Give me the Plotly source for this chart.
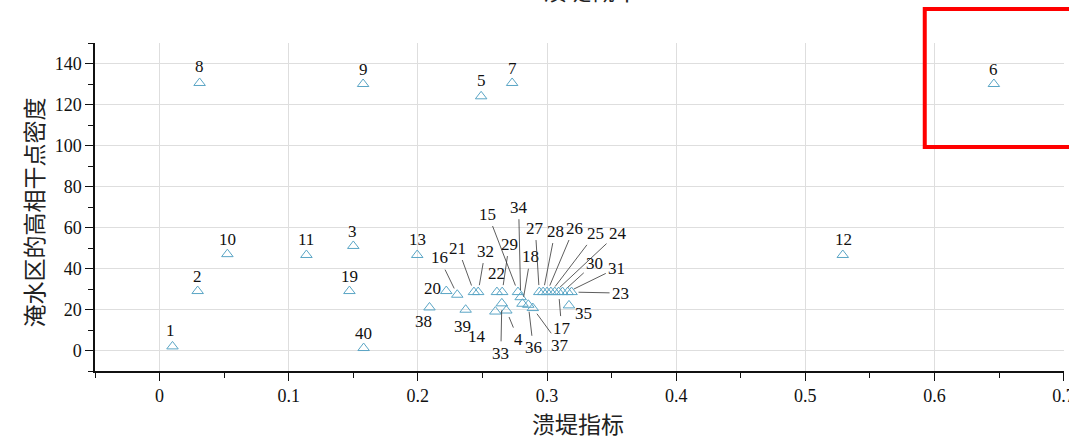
import plotly.graph_objects as go

# Sample numbers, breach index and high-coherence point density per site
point_ids = list(range(1, 41))
breach_index = [0.010, 0.0295, 0.150, 0.2685, 0.249, 0.646, 0.273, 0.031, 0.1576, 0.0525,
                0.1137, 0.529, 0.1995, 0.260, 0.2775, 0.2305, 0.309, 0.281, 0.147, 0.222,
                0.2434, 0.2612, 0.319, 0.306, 0.303, 0.300, 0.294, 0.297, 0.2653, 0.312,
                0.316, 0.2467, 0.265, 0.2796, 0.317, 0.2855, 0.289, 0.209, 0.237, 0.158]
coherent_density = [2, 29, 51, 19.5, 124, 130, 130.5, 130.5, 130, 47,
                    46.6, 46.6, 46.6, 19, 28.5, 27.2, 28.5, 22.8, 29, 29,
                    28.5, 28.5, 28.5, 28.5, 28.5, 28.5, 28.5, 28.5, 28.5, 28.5,
                    28.5, 28.5, 23, 26, 22, 22.3, 20.7, 21, 19.9, 1.2]

x_ticks = [0, 0.1, 0.2, 0.3, 0.4, 0.5, 0.6, 0.7]
y_ticks = [0, 20, 40, 60, 80, 100, 120, 140]

# label placement: (dx, dy in screen pixels, draw leader line)
label_layout = {
    1: (-2, -16, False), 2: (0, -15, False), 3: (-1, -14, False), 4: (12, 29, True),
    5: (0, -16, False), 6: (0, -15, False), 7: (0, -14, False), 8: (0, -16, False),
    9: (0, -15, False), 10: (0, -15, False), 11: (0, -15, False), 12: (1, -15, False),
    13: (0, -15, False), 14: (-18, 25, False), 15: (-30, -78, True), 16: (-18, -37, True),
    17: (3, 36, True), 18: (8, -47, True), 19: (0, -15, False), 20: (-14, -3, False),
    21: (-16, -44, True), 22: (0, -19, False), 23: (49, 1, True), 24: (63, -59, True),
    25: (45, -59, True), 26: (27, -64, True), 27: (-4, -64, True), 28: (12, -61, True),
    29: (7, -48, True), 30: (32, -29, True), 31: (49, -24, True), 32: (7, -41, True),
    33: (-1, 50, True), 34: (-2, -90, True), 35: (15, 8, False), 36: (5, 43, True),
    37: (27, 37, True), 38: (-6, 14, False), 39: (-3, 17, False), 40: (0, -15, False),
}

SERIF = "Liberation Serif"
NUM_FONT = dict(family=SERIF, size=17, color="#111")
CJK_FONT = "Noto Sans CJK SC"

fig = go.Figure()
fig.add_trace(go.Scatter(
    x=breach_index, y=coherent_density, mode="markers",
    marker=dict(symbol="triangle-up-open", size=10, color="#5aa5c5",
                line=dict(width=1, color="#5aa5c5")),
    showlegend=False, hoverinfo="skip",
))

annotations = []
for pid, xv, yv in zip(point_ids, breach_index, coherent_density):
    dx, dy, leader = label_layout[pid]
    if leader:
        annotations.append(dict(
            x=xv, y=yv, xref="x", yref="y", text=str(pid), font=NUM_FONT,
            showarrow=True, ax=dx, ay=dy, arrowhead=0, arrowwidth=0.8,
            arrowcolor="#333", standoff=7, startstandoff=1,
        ))
    else:
        annotations.append(dict(
            x=xv, y=yv, xref="x", yref="y", text=str(pid), font=NUM_FONT,
            showarrow=False, xshift=dx, yshift=-dy,
        ))

# chart title (runs off the top edge) and axis titles
annotations.append(dict(text="溃堤概率", xref="paper", yref="paper", x=0.512, y=1.104,
                        yanchor="bottom", showarrow=False,
                        font=dict(family=CJK_FONT, size=24, color="#222")))
annotations.append(dict(text="溃堤指标", xref="paper", yref="paper", x=0.4985, y=0,
                        yanchor="middle", yshift=-52, showarrow=False,
                        font=dict(family=CJK_FONT, size=23, color="#222")))
annotations.append(dict(text="淹水区的高相干点密度", xref="paper", yref="paper", x=0,
                        y=0.483, xanchor="center", yanchor="middle", xshift=-62,
                        textangle=-90, showarrow=False,
                        font=dict(family=CJK_FONT, size=23, color="#222")))

axis_common = dict(
    showgrid=True, gridcolor="#dedede", gridwidth=1, zeroline=False,
    showline=True, linecolor="#111", linewidth=1.5,
    ticks="outside", ticklen=8, tickwidth=1.3, tickcolor="#111",
    tickfont=dict(family=SERIF, size=18, color="#111"),
    ticklabeloverflow="allow", automargin=False,
)

fig.update_xaxes(range=[-0.05, 0.7003], tickvals=x_ticks, ticktext=[f"{v:g}" for v in x_ticks],
                 minor=dict(dtick=0.05, tick0=0, ticks="outside", ticklen=5, tickwidth=1.2,
                            tickcolor="#111", showgrid=False),
                 **axis_common)
fig.update_yaxes(range=[-10, 150], tickvals=y_ticks,
                 minor=dict(dtick=10, tick0=0, ticks="outside", ticklen=5, tickwidth=1.2,
                            tickcolor="#111", showgrid=False),
                 **axis_common)

fig.update_layout(
    width=1069, height=440, autosize=False,
    margin=dict(l=95, r=5, t=43, b=69, autoexpand=False),
    paper_bgcolor="white", plot_bgcolor="white",
    annotations=annotations,
    shapes=[dict(type="rect", xref="paper", yref="paper",
                 x0=0.8563, x1=1.02, y0=0.6829, y1=1.1034,
                 line=dict(color="#ff0000", width=4), fillcolor="rgba(0,0,0,0)")],
)

fig.write_html("out.html")
